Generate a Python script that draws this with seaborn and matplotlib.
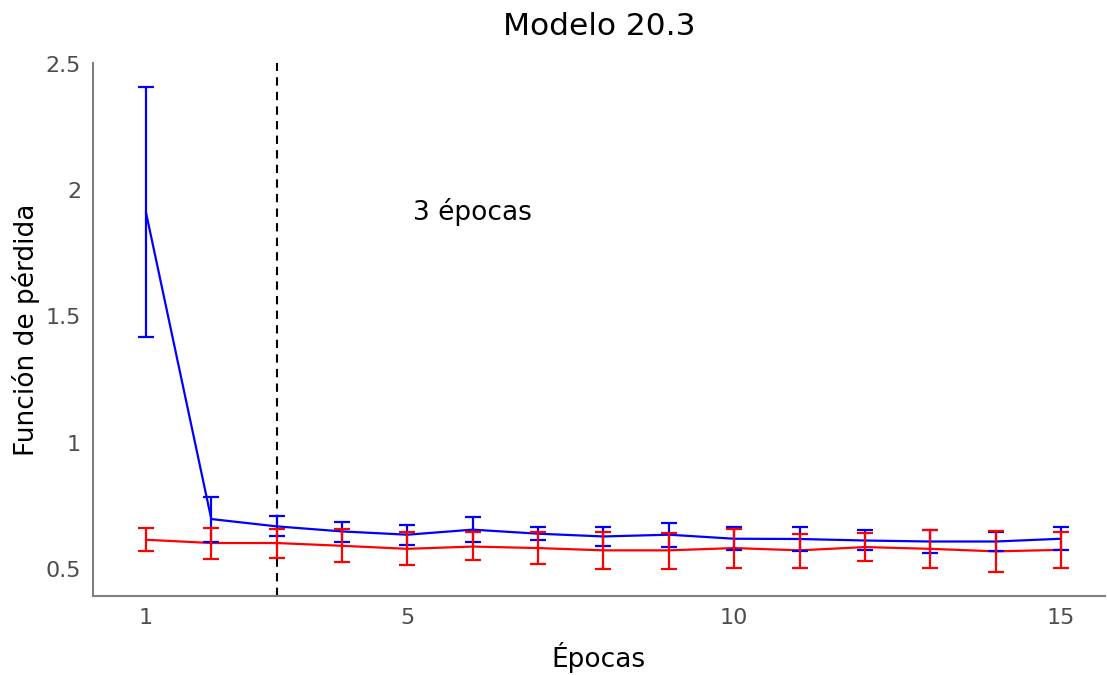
import matplotlib

matplotlib.use("Agg")
import matplotlib.pyplot as plt  # noqa: E402
import numpy as np  # noqa: E402
import pandas as pd  # noqa: E402
import seaborn as sns  # noqa: E402

# datos
epocas = list(range(1, 16))
val_media = [1.913, 0.697, 0.668, 0.648, 0.635, 0.655, 0.639, 0.628, 0.635, 0.619,
             0.618, 0.612, 0.608, 0.608, 0.619]
val_sup = [2.409, 0.785, 0.710, 0.687, 0.675, 0.704, 0.667, 0.664, 0.681, 0.667,
           0.667, 0.655, 0.655, 0.647, 0.664]
val_inf = [1.419, 0.608, 0.628, 0.607, 0.595, 0.607, 0.614, 0.592, 0.586, 0.573,
           0.569, 0.573, 0.562, 0.569, 0.574]
train_media = [0.615, 0.602, 0.602, 0.591, 0.579, 0.588, 0.582, 0.573, 0.573, 0.582,
               0.573, 0.586, 0.579, 0.569, 0.575]
train_sup = [0.661, 0.661, 0.659, 0.657, 0.644, 0.644, 0.646, 0.647, 0.642, 0.659,
             0.639, 0.642, 0.655, 0.650, 0.646]
train_inf = [0.569, 0.540, 0.541, 0.525, 0.515, 0.536, 0.520, 0.499, 0.501, 0.505,
             0.505, 0.532, 0.502, 0.487, 0.505]
corte = 3
etiqueta = "3 épocas"

series = [
    ("val", val_media, val_inf, val_sup, "#0000FF"),
    ("train", train_media, train_inf, train_sup, "#FF0000"),
]

df = pd.concat(
    [pd.DataFrame({"epoca": epocas, "perdida": m, "serie": n}) for n, m, _, _, _ in series]
)

sns.set_style("white")
plt.rcParams["font.family"] = ["DejaVu Sans"]

fig = plt.figure(figsize=(11.07, 6.75), dpi=100)
ax = fig.add_axes([0.084, 0.117, 0.914, 0.790])

sns.lineplot(
    data=df, x="epoca", y="perdida", hue="serie",
    palette={"val": "#0000FF", "train": "#FF0000"},
    linewidth=1.6, legend=False, ax=ax, zorder=3,
)
for n, m, lo, hi, col in series:
    m = np.array(m)
    ax.errorbar(
        epocas, m, yerr=[m - np.array(lo), np.array(hi) - m],
        fmt="none", ecolor=col, elinewidth=1.6, capsize=6, capthick=1.6, zorder=3,
    )

ax.axvline(corte, color="black", linestyle=(0, (4, 3)), linewidth=1.5)
ax.text(6, 1.913, etiqueta, ha="center", va="center", fontsize=19, color="black")

ax.set_xlim(0.19, 15.67)
ax.set_ylim(0.392, 2.505)
ax.set_xticks([1, 5, 10, 15])
ax.set_yticks([0.5, 1, 1.5, 2, 2.5])
ax.set_yticklabels(["0.5", "1", "1.5", "2", "2.5"])
ax.tick_params(colors="#333333", labelcolor="#4D4D4D", labelsize=16, length=5, width=1.2)

for s in ["top", "right"]:
    ax.spines[s].set_visible(False)
for s in ["left", "bottom"]:
    ax.spines[s].set_color("#7F7F7F")
    ax.spines[s].set_linewidth(1.5)

ax.set_xlabel("Épocas", fontsize=19, labelpad=10, color="black")
ax.set_ylabel("Función de pérdida", fontsize=19, labelpad=4, color="black")
ax.set_title("Modelo 20.3", fontsize=22.5, pad=20, color="black")

fig.savefig("out.png", dpi=100)
